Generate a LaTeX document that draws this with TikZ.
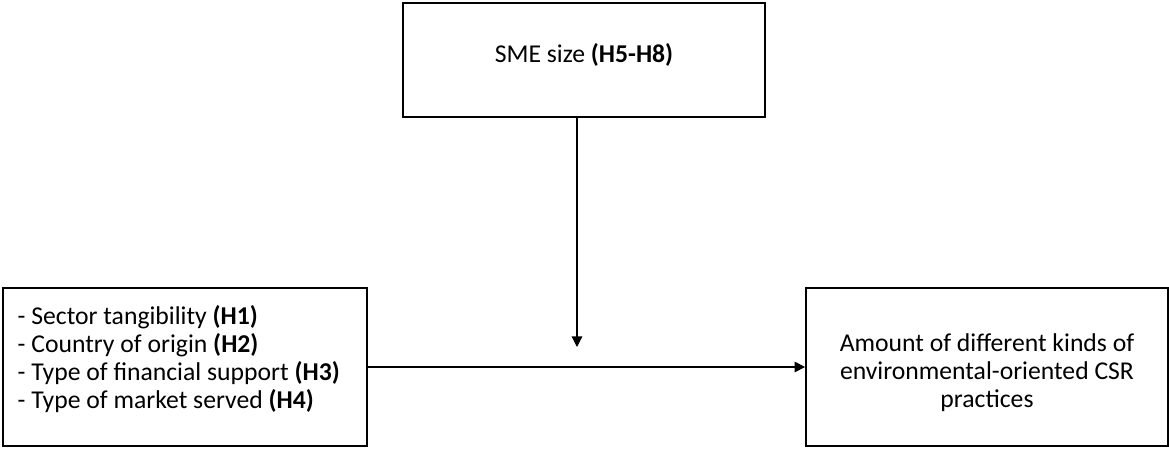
\documentclass[tikz,border=0pt]{standalone}
\usepackage{fontspec}
\setmainfont{Carlito}
\usetikzlibrary{arrows.meta,positioning}

\begin{document}
\begin{tikzpicture}[x=0.01cm, y=0.01cm,
    box/.style={draw, line width=0.45pt, inner sep=0pt},
    txt/.style={font=\fontsize{7.3}{8}\selectfont, inner sep=0pt},
    link/.style={line width=0.35pt, -{Triangle[length=3pt, width=3pt]}}]
    \useasboundingbox (0,0) rectangle (1169,448);
    % Draw boxes
    \node[box, minimum width=3.62cm, minimum height=1.14cm] (size) at (584,388) {};
    \node[box, minimum width=3.64cm, minimum height=1.58cm] (drivers) at (185,81) {};
    \node[box, minimum width=3.62cm, minimum height=1.58cm] (csr) at (987,81) {};
    % Texts
    \node[txt] (sizetext) at (584,393) {SME size \textbf{(H5-H8)}};
    \node[txt, anchor=west, align=left] (driverstext) at (17,89)
        {- Sector tangibility \textbf{(H1)}\\
         - Country of origin \textbf{(H2)}\\
         - Type of financial support \textbf{(H3)}\\
         - Type of market served \textbf{(H4)}};
    \node[txt, align=center] (csrtext) at (987,75)
        {Amount of different kinds of\\ environmental-oriented CSR\\ practices};
    % Draw arrows
    \coordinate (moderate) at (577,101);
    \draw[link] (drivers.east) -- (csr.west);
    \draw[link] (size.south -| moderate) -- (moderate);
\end{tikzpicture}
\end{document}
